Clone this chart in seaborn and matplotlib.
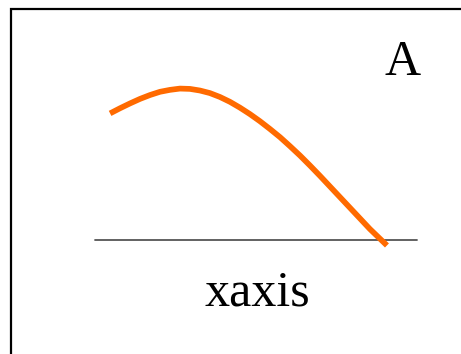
import numpy as np
import pandas as pd
import matplotlib
matplotlib.use('Agg')
import matplotlib.pyplot as plt
import seaborn as sns
from matplotlib.patches import Rectangle

# ===== data =====
curve_x = [0.47, 0.78, 1.09, 1.40, 1.71, 2.02, 2.33, 2.64, 2.95, 3.26, 3.57, 3.88,
           4.19, 4.50, 4.81, 5.12, 5.43, 5.75, 6.06, 6.37, 6.68, 6.99, 7.30, 7.61,
           7.92, 8.23, 8.54, 9.07]
curve_y = [3.93, 4.09, 4.24, 4.38, 4.50, 4.60, 4.66, 4.70, 4.69, 4.64, 4.56, 4.44,
           4.29, 4.11, 3.91, 3.69, 3.45, 3.19, 2.91, 2.62, 2.31, 1.99, 1.66, 1.33,
           1.00, 0.67, 0.34, -0.17]
axis_x = [0.0, 10.0]
axis_y = [0.0, 0.0]
axis_label = 'xaxis'
panel_label = 'A'

sns.set_style('white')
plt.rcParams['font.family'] = ['Liberation Serif', 'DejaVu Serif']

fig = plt.figure(figsize=(4.61, 3.54), dpi=100)
ax = fig.add_axes([0, 0, 1, 1])

df = pd.DataFrame({'x': curve_x, 'y': curve_y})
sns.lineplot(data=df, x='x', y='y', sort=False, color='#ff6a00', lw=4.1,
             solid_capstyle='butt', solid_joinstyle='round', ax=ax)
ax.plot(axis_x, axis_y, color='#555555', lw=1.3, zorder=1)

ax.text(5.05, -2.02, axis_label, fontsize=36, ha='center', va='baseline', color='black')
ax.text(9.57, 5.12, panel_label, fontsize=36, ha='center', va='baseline', color='black')

ax.set_xlim(-2.95, 11.37)
ax.set_ylim(-3.54, 7.45)
ax.axis('off')

# frame round the panel (right and bottom edges run off the picture)
fig.add_artist(Rectangle((11 / 461, -0.1), 1.0, 1.1 - 9 / 354,
                         transform=fig.transFigure, fill=False,
                         lw=1.6, ec='black'))

fig.savefig('out.png', dpi=100)
